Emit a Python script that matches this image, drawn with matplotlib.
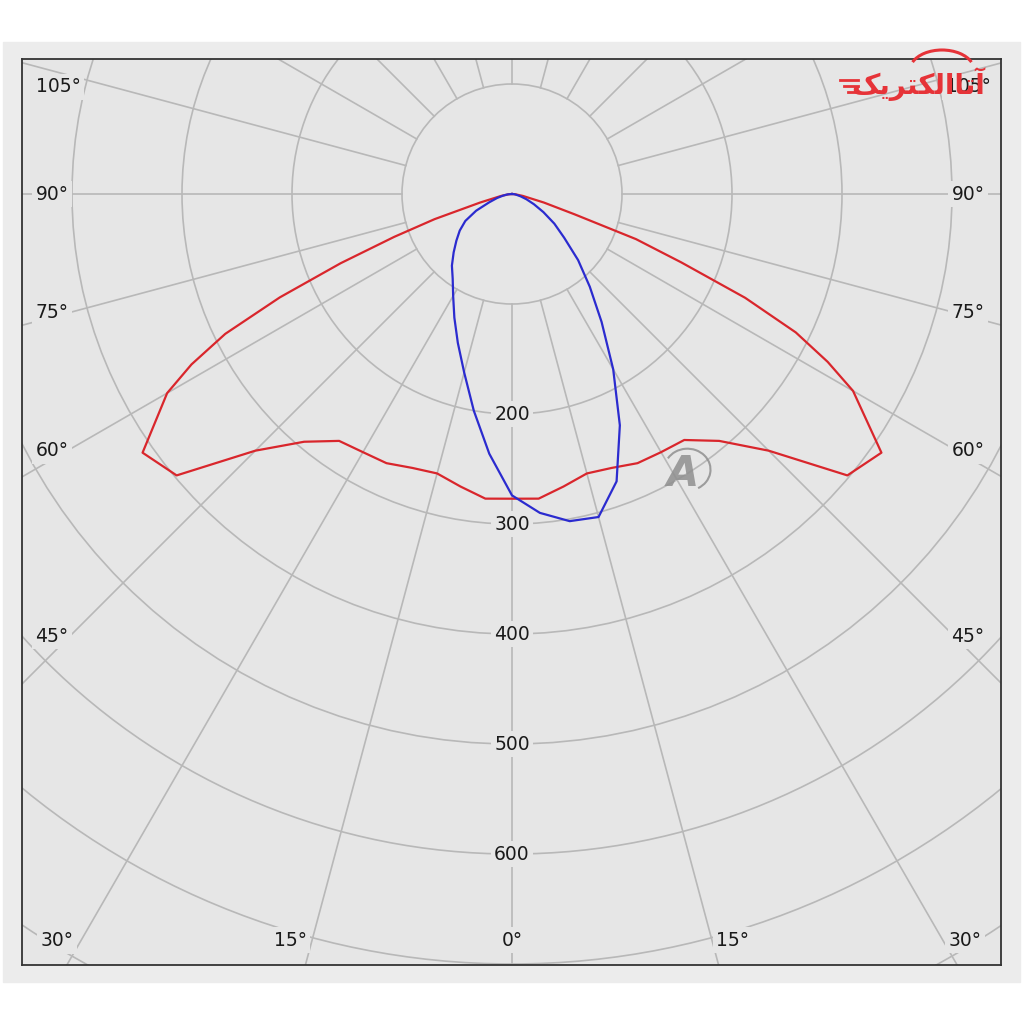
import numpy as np
import matplotlib
matplotlib.use('Agg')
import matplotlib.pyplot as plt
from matplotlib.patches import Circle, Rectangle, Arc

# Polar intensity data (cd), angle from nadir in degrees; negative = left half
red_angles = [-90, -85, -80, -75, -72, -70, -68, -66, -64, -62, -60, -55, -50, -45,
              -40, -35, -30, -25, -20, -15, -10, -5, 0, 5, 10, 15, 20, 25, 30, 35,
              40, 45, 50, 55, 60, 62, 64, 66, 68, 70, 72, 75, 80, 85, 90]
red_values = [0, 3, 10, 30, 74, 114, 168, 231, 290, 330, 362, 410, 398, 330,
              294, 274, 271, 270, 265, 263, 270, 278, 277, 278, 270, 263, 265, 270, 271, 273,
              293, 330, 398, 410, 358, 325, 287, 232, 166, 120, 60, 30, 10, 3, 0]

blue_angles = [-90, -85, -80, -75, -70, -65, -60, -55, -50, -45, -40, -35, -30, -25,
               -20, -15, -10, -5, 0, 5, 10, 15, 20, 25, 30, 35, 40, 45, 50, 55,
               60, 65, 70, 75, 80, 85, 90]
blue_values = [0, 4, 8, 14, 22, 36, 49, 58, 66, 75, 85, 94, 107, 124,
               144, 168, 200, 237, 274, 291, 302, 304, 278, 232, 184, 142, 110, 85, 62, 47,
               33, 22, 14, 8, 4, 2, 0]

ring_values = [100, 200, 300, 400, 500, 600, 700, 800, 900]
ring_labels = [200, 300, 400, 500, 600]
spoke_angles = np.arange(0, 360, 15)

angle_labels = ['105°', '90°', '75°', '60°', '45°', '30°', '15°', '0°',
                '15°', '30°', '45°', '60°', '75°', '90°', '105°']
# label anchor positions in picture pixels
angle_label_px = [(58, 87), (52, 194), (52, 312), (52, 451), (52, 636), (57, 941),
                  (290, 940), (512, 940), (733, 940), (965, 940), (968, 636),
                  (968, 451), (968, 312), (968, 194), (968, 87)]

CX, CY, SCALE = 512, 194, 1.1
bg = '#e6e6e6'
grid_c = '#b8b8b8'


def px2data(px, py):
    return (px - CX) / SCALE, (CY - py) / SCALE


def to_xy(angles, values):
    a = np.radians(angles)
    v = np.asarray(values, dtype=float)
    return v * np.sin(a), -v * np.cos(a)


fig = plt.figure(figsize=(10.24, 10.24), dpi=100)
fig.patch.set_facecolor('white')
fig.patches.append(Rectangle((3 / 1024, 1 - 982 / 1024), 1017 / 1024, 940 / 1024,
                             transform=fig.transFigure, color='#ececec', zorder=-10))

ax = fig.add_axes([22 / 1024, 1 - 965 / 1024, 979 / 1024, 906 / 1024])
ax.set_zorder(1)
ax.set_facecolor(bg)
x0, y1 = px2data(22, 59)
x1, y0 = px2data(1001, 965)
ax.set_xlim(x0, x1)
ax.set_ylim(y0, y1)
ax.set_xticks([])
ax.set_yticks([])
for s in ax.spines.values():
    s.set_color('#333333')
    s.set_linewidth(1.3)

# grid rings and spokes
for r in ring_values:
    ax.add_patch(Circle((0, 0), r, fill=False, ec=grid_c, lw=1.2, zorder=1))
for a in spoke_angles:
    xs, ys = to_xy([a, a], [100, 1300])
    ax.plot(xs, ys, color=grid_c, lw=1.2, zorder=1)

# curves
rx, ry = to_xy(red_angles, red_values)
ax.plot(rx, ry, color='#d9262c', lw=1.6, zorder=3)
bx, by = to_xy(blue_angles, blue_values)
ax.plot(bx, by, color='#2b2bcf', lw=1.6, zorder=4)

box = dict(boxstyle='square,pad=0.18', fc=bg, ec='none')
for r in ring_labels:
    ax.text(0, -r, str(r), ha='center', va='center', fontsize=13.5,
            color='#1a1a1a', bbox=box, zorder=5)

for lab, (px, py) in zip(angle_labels, angle_label_px):
    x, y = px2data(px, py)
    ax.text(x, y, lab, ha='center', va='center', fontsize=13.5,
            color='#1a1a1a', bbox=box, zorder=5)

# watermark "A" mark
wx, wy = px2data(683, 474)
ax.text(wx, wy, 'A', ha='center', va='center', fontsize=30, fontweight='bold',
        fontstyle='italic', color='#8f8f8f', alpha=0.85, zorder=6)
ax.add_patch(Arc((wx + 4, wy + 4), 42, 38, theta1=-60, theta2=150,
                 color='#8f8f8f', lw=1.5, alpha=0.85, zorder=6))

# red logo (Arabic presentation forms in visual order)
logo = '\uFB8F\uFBFE\uFEAE\uFE98\uFB91\uFEDF\uFE8D\uFE8E\uFE97\uFE81'
fig.text(918 / 1024, 1 - 84 / 1024, logo, ha='center', va='center',
         fontsize=20, fontweight='bold', color='#e63338', family='DejaVu Sans',
         zorder=10)
fig.patches.append(Arc((942 / 1024, 1 - 70 / 1024), 64 / 1024, 40 / 1024,
                       theta1=15, theta2=165, transform=fig.transFigure,
                       color='#e63338', lw=2.2, zorder=10))
for i, ly in enumerate([80, 86, 92]):
    fig.lines.append(plt.Line2D([(840 + 4 * i) / 1024, 858 / 1024],
                                [1 - ly / 1024, 1 - ly / 1024],
                                transform=fig.transFigure, color='#e63338', lw=2,
                                zorder=10))

fig.savefig('out.png', dpi=100, facecolor=fig.get_facecolor())
